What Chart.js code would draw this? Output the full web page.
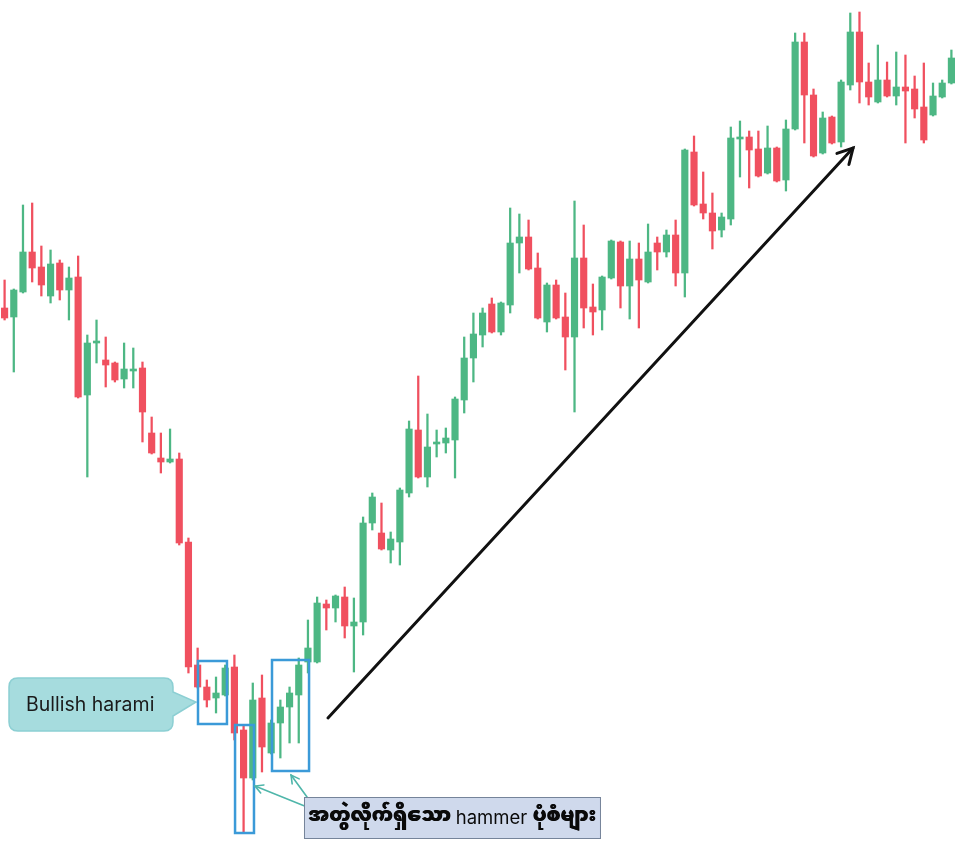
<!DOCTYPE html>
<html>
<head>
<meta charset="utf-8">
<script src="https://cdn.jsdelivr.net/npm/chart.js@4.4.1/dist/chart.umd.min.js"></script>
<style>
  html, body { margin: 0; padding: 0; background: #fff; }
  #wrap { width: 956px; height: 847px; position: relative; }
</style>
</head>
<body>
<div id="wrap"><canvas id="myChart"></canvas></div>
<script>
// OHLC (arbitrary price units, axis hidden)
const opens  = [539,530,555,595,580,551,584,557,570,452,504,487,484,468,476,479,414,389,385,388,
                305,182,160,149,152,180,117,69,149,94,124,140,152,185,185,243,239,250,221,225,
                324,314,297,305,354,417,370,403,404,407,447,489,512,543,515,542,604,610,579,525,
                562,530,510,589,540,537,569,605,561,588,565,604,595,612,574,695,643,634,617,628,
                708,710,698,674,699,667,718,805,752,694,730,705,762,815,765,745,767,751,760,758,
                740,732,750,764];
const highs  = [567,558,642,644,601,597,587,580,591,512,527,510,485,504,499,485,430,414,418,394,
                309,199,167,170,182,192,122,164,172,127,147,160,189,227,250,247,252,260,249,330,
                354,344,315,359,426,471,433,417,419,450,510,534,539,549,545,639,633,627,594,564,
                567,554,646,622,563,571,607,606,606,604,623,610,617,627,698,711,675,654,634,720,
                726,716,716,721,700,727,814,814,758,735,731,767,834,835,784,802,785,795,792,771,
                784,764,767,797];
const lows   = [527,475,554,565,551,544,547,527,449,370,484,460,465,459,459,405,393,374,384,302,
                174,159,140,134,151,107,14,67,75,93,89,104,104,174,184,217,225,209,175,212,
                317,297,284,282,350,369,360,390,394,369,434,465,500,514,512,534,574,577,528,515,
                528,477,435,519,512,517,568,539,528,519,564,577,590,561,550,641,628,598,610,622,
                670,659,670,673,665,656,717,704,690,693,703,700,757,744,742,744,750,742,704,729,
                704,731,749,763];
const closes = [529,557,595,579,562,583,557,569,450,504,506,482,467,478,478,435,394,385,388,304,
                180,160,147,154,179,114,69,147,100,124,140,154,182,199,244,239,251,221,225,324,
                350,298,308,357,418,370,400,405,409,448,489,513,534,515,544,604,610,578,529,562,
                529,510,589,539,535,570,606,561,588,567,595,595,612,574,697,642,634,616,630,709,
                710,697,671,699,666,718,805,752,691,729,704,765,815,765,750,767,751,760,756,738,
                707,751,764,789];
const labels = opens.map((_, i) => String(i + 1));

const green = '#4db784';
const red = '#f0505f';
const colors = opens.map((o, i) => closes[i] >= o ? green : red);

// annotation anchors in (candle index, price) units
const hammerBoxes = [
    { from: 21.04, to: 24.19, top: 186, bottom: 123 },
    { from: 25.07, to: 27.13, top: 122, bottom: 14 },
    { from: 29.09, to: 33.12, top: 187, bottom: 76 }
];
const trendArrow = { from: [35.18, 129], to: [92.3, 699] };
const pointerArrows = [
    { from: [32.9, 40], to: [27.24, 61] },
    { from: [32.9, 50], to: [31.16, 72] }
];

const arrowHead = (ctx, x0, y0, x1, y1, size) => {
    const a = Math.atan2(y1 - y0, x1 - x0);
    ctx.beginPath();
    ctx.moveTo(x1 - size * Math.cos(a - 0.5), y1 - size * Math.sin(a - 0.5));
    ctx.lineTo(x1, y1);
    ctx.lineTo(x1 - size * Math.cos(a + 0.5), y1 - size * Math.sin(a + 0.5));
    ctx.stroke();
};

const annotations = {
    id: 'annotations',
    afterDraw(chart) {
        const ctx = chart.ctx;
        const xs = chart.scales.x, ys = chart.scales.y;
        const px = (i) => xs.getPixelForValue(i);
        const py = (v) => ys.getPixelForValue(v);
        ctx.save();

        // callout "Bullish harami"
        const cx0 = px(0.48), cx1 = px(18.32), cy0 = py(169), cy1 = py(116), r = 9;
        ctx.beginPath();
        ctx.moveTo(cx0 + r, cy0);
        ctx.lineTo(cx1 - r, cy0);
        ctx.quadraticCurveTo(cx1, cy0, cx1, cy0 + r);
        ctx.lineTo(cx1, py(155));
        ctx.lineTo(px(20.82), py(145));
        ctx.lineTo(cx1, py(131));
        ctx.lineTo(cx1, cy1 - r);
        ctx.quadraticCurveTo(cx1, cy1, cx1 - r, cy1);
        ctx.lineTo(cx0 + r, cy1);
        ctx.quadraticCurveTo(cx0, cy1, cx0, cy1 - r);
        ctx.lineTo(cx0, cy0 + r);
        ctx.quadraticCurveTo(cx0, cy0, cx0 + r, cy0);
        ctx.closePath();
        ctx.fillStyle = '#a6dcde';
        ctx.fill();
        ctx.strokeStyle = '#8ccfd3';
        ctx.lineWidth = 1.5;
        ctx.stroke();
        ctx.fillStyle = '#1a1a1a';
        ctx.font = '19.5px Inter, "Noto Sans", sans-serif';
        ctx.textBaseline = 'middle';
        ctx.textAlign = 'left';
        ctx.fillText('Bullish harami', cx0 + 17, (cy0 + cy1) / 2 + 1);

        // blue boxes
        ctx.strokeStyle = '#3b9ad8';
        ctx.lineWidth = 2.5;
        hammerBoxes.forEach(b => {
            ctx.strokeRect(px(b.from), py(b.top), px(b.to) - px(b.from), py(b.bottom) - py(b.top));
        });

        // long black arrow
        ctx.strokeStyle = '#111';
        ctx.lineWidth = 3;
        ctx.lineCap = 'round';
        const ax0 = px(trendArrow.from[0]), ay0 = py(trendArrow.from[1]);
        const ax1 = px(trendArrow.to[0]), ay1 = py(trendArrow.to[1]);
        ctx.beginPath();
        ctx.moveTo(ax0, ay0);
        ctx.lineTo(ax1, ay1);
        ctx.stroke();
        arrowHead(ctx, ax0, ay0, ax1, ay1, 17);

        // teal pointer arrows
        ctx.strokeStyle = '#4fb6aa';
        ctx.lineWidth = 1.6;
        pointerArrows.forEach(a => {
            const x0 = px(a.from[0]), y0 = py(a.from[1]), x1 = px(a.to[0]), y1 = py(a.to[1]);
            ctx.beginPath();
            ctx.moveTo(x0, y0);
            ctx.lineTo(x1, y1);
            ctx.stroke();
            arrowHead(ctx, x0, y0, x1, y1, 9);
        });

        // label box
        const lx0 = px(32.57), lx1 = px(64.77), ly0 = py(50), ly1 = py(9);
        ctx.fillStyle = '#cfd9ec';
        ctx.fillRect(lx0, ly0, lx1 - lx0, ly1 - ly0);
        ctx.strokeStyle = '#75849a';
        ctx.lineWidth = 1;
        ctx.strokeRect(lx0 + 0.5, ly0 + 0.5, lx1 - lx0, ly1 - ly0);
        const mm = '"Noto Sans Myanmar", Padauk, "Myanmar Text", "Noto Sans", sans-serif';
        const parts = [
            { t: 'အတွဲလိုက်ရှိသော ', f: '900 19px ' + mm },
            { t: 'hammer ', f: '18.5px Inter, "Noto Sans", sans-serif' },
            { t: 'ပုံစံများ', f: '900 19px ' + mm }
        ];
        let total = 0;
        parts.forEach(p => { ctx.font = p.f; p.w = ctx.measureText(p.t).width; total += p.w; });
        let tx = (lx0 + lx1) / 2 - total / 2;
        ctx.fillStyle = '#0a0a0a';
        ctx.textBaseline = 'middle';
        parts.forEach(p => {
            ctx.font = p.f;
            ctx.fillText(p.t, tx, (ly0 + ly1) / 2 + 1);
            if (p.f.startsWith('900')) ctx.fillText(p.t, tx + 0.6, (ly0 + ly1) / 2 + 1);
            tx += p.w;
        });

        ctx.restore();
    }
};

const ctx = document.getElementById('myChart').getContext('2d');
const chart = new Chart(ctx, {
    type: 'bar',
    data: {
        labels: labels,
        datasets: [{
            // candle bodies
            data: opens.map((o, i) => [Math.min(o, closes[i]), Math.max(o, closes[i])]),
            backgroundColor: colors,
            barThickness: 6.5,
            minBarLength: 2,
            grouped: false,
            order: 0
        }, {
            // wicks
            data: lows.map((l, i) => [l, highs[i]]),
            backgroundColor: colors,
            barThickness: 1.6,
            grouped: false,
            order: 1
        }]
    },
    options: {
        responsive: true,
        maintainAspectRatio: false,
        animation: false,
        layout: { padding: 0 },
        plugins: {
            legend: { display: false },
            tooltip: { enabled: false }
        },
        scales: {
            x: { display: false, offset: true },
            y: { display: false, min: 0, max: 847 }
        }
    },
    plugins: [annotations]
});
</script>
</body>
</html>
